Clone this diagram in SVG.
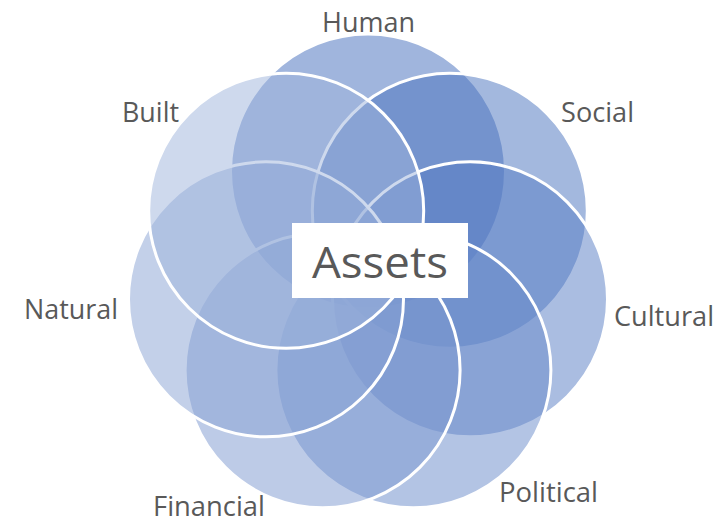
<svg xmlns="http://www.w3.org/2000/svg" width="724" height="523" viewBox="0 0 724 523">
  <style>
    .c { fill-opacity: 0.5; stroke: #FFFFFF; stroke-width: 3; }
    .lbl { font-family: "Open Sans", "Liberation Sans", sans-serif; font-size: 27px; fill: #595959; text-anchor: middle; }
    .ctr { font-family: "Open Sans", "Liberation Sans", sans-serif; font-size: 44px; fill: #595959; text-anchor: middle; }
  </style>
  <rect width="724" height="523" fill="#FFFFFF"/>
  <g id="connectors"/>
  <g id="human">
    <circle class="c" cx="368" cy="171.4" r="137.5" fill="#426CBC"/>
    <text class="lbl" x="368.5" y="32" textLength="93" lengthAdjust="spacingAndGlyphs">Human</text>
  </g>
  <g id="social">
    <circle class="c" cx="449.8" cy="210.8" r="137.5" fill="#4871BE"/>
    <text class="lbl" x="597.5" y="122" textLength="73" lengthAdjust="spacingAndGlyphs">Social</text>
  </g>
  <g id="cultural">
    <circle class="c" cx="470" cy="299.3" r="137.5" fill="#557BC3"/>
    <text class="lbl" x="664" y="326" textLength="100" lengthAdjust="spacingAndGlyphs">Cultural</text>
  </g>
  <g id="political">
    <circle class="c" cx="413.4" cy="370.2" r="137.5" fill="#6889C9"/>
    <text class="lbl" x="548.5" y="502" textLength="99" lengthAdjust="spacingAndGlyphs">Political</text>
  </g>
  <g id="financial">
    <circle class="c" cx="322.6" cy="370.2" r="137.5" fill="#7B98D0"/>
    <text class="lbl" x="209" y="516" textLength="112" lengthAdjust="spacingAndGlyphs">Financial</text>
  </g>
  <g id="natural">
    <circle class="c" cx="266" cy="299.3" r="137.5" fill="#88A2D4"/>
    <text class="lbl" x="71" y="319" textLength="94" lengthAdjust="spacingAndGlyphs">Natural</text>
  </g>
  <g id="built">
    <circle class="c" cx="286.2" cy="210.8" r="137.5" fill="#9DB3DC"/>
    <text class="lbl" x="150.5" y="122" textLength="57" lengthAdjust="spacingAndGlyphs">Built</text>
  </g>
  <g id="assets">
    <rect x="292" y="223" width="176" height="75" fill="#FFFFFF"/>
    <text class="ctr" x="380" y="278" textLength="136" lengthAdjust="spacingAndGlyphs">Assets</text>
  </g>
</svg>
